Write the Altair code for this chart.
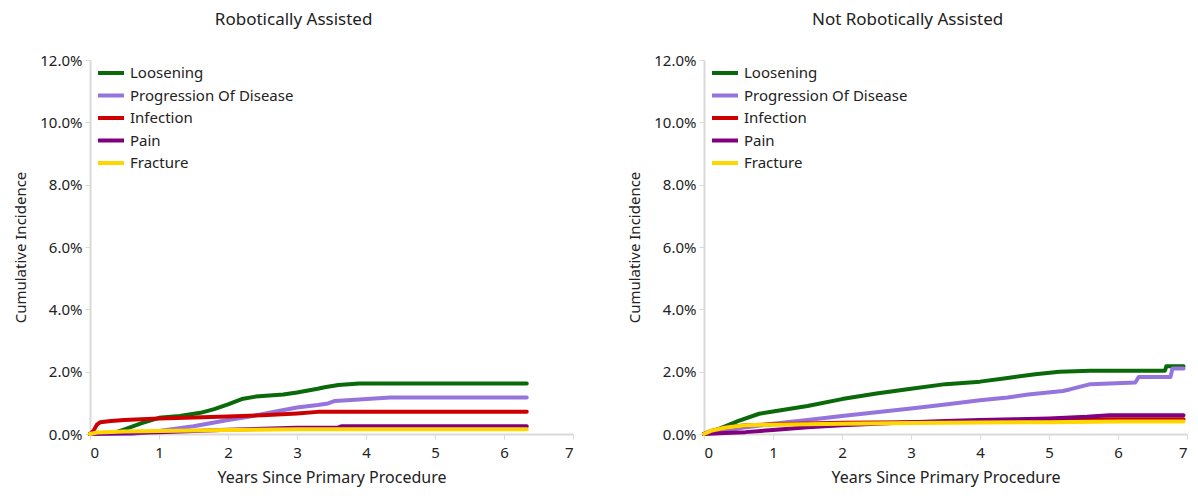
import altair as alt
import pandas as pd

FONT = "Noto Sans"

causes = ["Loosening", "Progression Of Disease", "Infection", "Pain", "Fracture"]
colors = ["#0a6a0a", "#9575dd", "#cc0000", "#800080", "#ffd700"]
x_ticks = [0, 1, 2, 3, 4, 5, 6, 7]
y_ticks = [0.0, 0.02, 0.04, 0.06, 0.08, 0.10, 0.12]
panel_titles = ["Robotically Assisted", "Not Robotically Assisted"]

# Robotically assisted (values in %)
rob_loosening_t = [0, 0.3, 0.5, 0.75, 1.0, 1.3, 1.6, 1.8, 2.0, 2.2, 2.4, 2.8, 3.0, 3.3, 3.4, 3.6, 3.9, 6.33]
rob_loosening_v = [0, 0, 0.15, 0.35, 0.52, 0.58, 0.68, 0.8, 0.95, 1.12, 1.2, 1.27, 1.33, 1.45, 1.5, 1.57, 1.62, 1.62]
rob_progression_t = [0, 0.6, 1.0, 1.5, 2.0, 2.3, 2.6, 3.0, 3.3, 3.45, 3.55, 3.9, 4.35, 6.33]
rob_progression_v = [0, 0, 0.1, 0.25, 0.45, 0.55, 0.68, 0.85, 0.93, 0.98, 1.06, 1.11, 1.17, 1.17]
rob_infection_t = [0, 0.05, 0.1, 0.15, 0.3, 0.5, 1.0, 1.5, 2.0, 2.5, 3.0, 3.3, 6.33]
rob_infection_v = [0, 0.1, 0.3, 0.38, 0.42, 0.45, 0.5, 0.53, 0.56, 0.6, 0.66, 0.71, 0.71]
rob_pain_t = [0, 0.5, 1.0, 1.5, 2.0, 2.5, 3.0, 3.6, 3.65, 6.33]
rob_pain_v = [0, 0.03, 0.06, 0.1, 0.14, 0.17, 0.2, 0.21, 0.25, 0.25]
rob_fracture_t = [0, 0.1, 0.5, 1.0, 2.0, 3.0, 6.33]
rob_fracture_v = [0, 0.05, 0.08, 0.1, 0.13, 0.15, 0.15]

# Not robotically assisted (values in %)
non_loosening_t = [0, 0.2, 0.5, 0.8, 1.0, 1.5, 2.0, 2.5, 3.0, 3.5, 4.0, 4.4, 4.8, 5.15, 5.6, 6.68, 6.7, 6.95]
non_loosening_v = [0, 0.15, 0.42, 0.65, 0.72, 0.9, 1.12, 1.3, 1.45, 1.6, 1.68, 1.8, 1.92, 2.0, 2.03, 2.03, 2.17, 2.17]
non_progression_t = [0, 0.3, 0.5, 1.0, 1.5, 2.0, 2.5, 3.0, 3.5, 4.0, 4.4, 4.7, 5.2, 5.3, 5.6, 6.25, 6.3, 6.76, 6.79, 6.95]
non_progression_v = [0, 0.1, 0.18, 0.33, 0.45, 0.58, 0.7, 0.82, 0.95, 1.08, 1.17, 1.27, 1.38, 1.43, 1.6, 1.65, 1.83, 1.83, 2.1, 2.1]
non_infection_t = [0, 0.1, 0.3, 0.6, 1.0, 2.0, 3.0, 4.0, 5.0, 5.88, 6.95]
non_infection_v = [0, 0.1, 0.2, 0.28, 0.31, 0.36, 0.38, 0.4, 0.42, 0.47, 0.47]
non_pain_t = [0, 0.3, 0.6, 1.0, 1.5, 2.0, 2.5, 3.0, 3.5, 4.0, 4.5, 5.0, 5.55, 5.88, 6.95]
non_pain_v = [0, 0.03, 0.06, 0.13, 0.22, 0.28, 0.33, 0.38, 0.42, 0.45, 0.47, 0.5, 0.55, 0.6, 0.6]
non_fracture_t = [0, 0.1, 0.3, 0.6, 1.0, 2.0, 3.0, 4.0, 5.0, 6.0, 6.95]
non_fracture_v = [0, 0.1, 0.2, 0.28, 0.3, 0.33, 0.35, 0.37, 0.38, 0.4, 0.4]

series = {
    panel_titles[0]: [
        (rob_loosening_t, rob_loosening_v), (rob_progression_t, rob_progression_v),
        (rob_infection_t, rob_infection_v), (rob_pain_t, rob_pain_v),
        (rob_fracture_t, rob_fracture_v)],
    panel_titles[1]: [
        (non_loosening_t, non_loosening_v), (non_progression_t, non_progression_v),
        (non_infection_t, non_infection_v), (non_pain_t, non_pain_v),
        (non_fracture_t, non_fracture_v)],
}

rows = []
for panel, lst in series.items():
    for cause, (ts, vs) in zip(causes, lst):
        for i, (t, v) in enumerate(zip(ts, vs)):
            rows.append({"panel": panel, "cause": cause, "t": t, "v": v / 100.0, "i": i})
df = pd.DataFrame(rows)

color_scale = alt.Scale(domain=causes, range=colors)


def panel_chart(panel):
    layers = []
    for cause in causes:
        layers.append(
            alt.Chart(df)
            .transform_filter((alt.datum.panel == panel) & (alt.datum.cause == cause))
            .mark_line(strokeWidth=4, strokeCap="round", strokeJoin="round")
            .encode(
                x=alt.X("t:Q", scale=alt.Scale(domain=[0, 7], nice=False),
                        axis=alt.Axis(values=x_ticks, title="Years Since Primary Procedure",
                                      format="d", titleFontSize=16)),
                y=alt.Y("v:Q", scale=alt.Scale(domain=[0, 0.12], nice=False),
                        axis=alt.Axis(values=y_ticks, format=".1%", title="Cumulative Incidence",
                                      titleFontSize=15)),
                color=alt.Color("cause:N", scale=color_scale,
                                legend=alt.Legend(title=None, orient="none", legendX=6, legendY=4,
                                                  symbolType="stroke", symbolStrokeWidth=4,
                                                  symbolSize=676, clipHeight=18, rowPadding=4.5,
                                                  labelFontSize=15, labelFont=FONT,
                                                  labelColor="#222222", labelOffset=4,
                                                  labelLimit=0, padding=0)),
                order=alt.Order("i:Q"),
            )
        )
    return alt.layer(*layers).properties(
        width=483, height=374,
        title=alt.TitleParams(panel, anchor="middle", frame="bounds", fontSize=17,
                              fontWeight="normal", font=FONT, color="#222222", offset=24),
    )


chart = (
    alt.hconcat(panel_chart(panel_titles[0]), panel_chart(panel_titles[1]), spacing=53)
    .resolve_scale(color="independent")
    .properties(padding={"left": 5, "top": 3, "right": 0, "bottom": 4})
    .configure_view(stroke=None)
    .configure_axis(
        domainColor="#d9d9d9", domainWidth=2, tickColor="#d9d9d9", tickSize=5, tickWidth=1,
        grid=False, labelFont=FONT, labelFontSize=15, labelColor="#222222",
        titleFont=FONT, titleFontWeight="normal", titleColor="#222222",
    )
    .configure_axisY(titlePadding=11, labelPadding=3)
    .configure_axisX(titlePadding=9, labelPadding=6)
)

chart.save("out.html", embed_options={"renderer": "svg", "actions": False})
